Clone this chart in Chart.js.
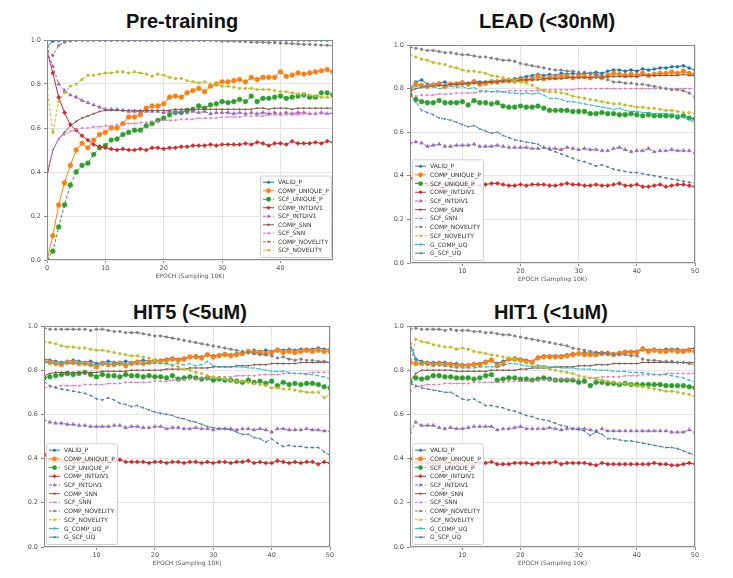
<!DOCTYPE html>
<html>
<head>
<meta charset="utf-8">
<script src="https://cdn.jsdelivr.net/npm/chart.js@4.4.0/dist/chart.umd.min.js"></script>
<style>
  body { margin:0; background:#fff; width:733px; height:578px; position:relative; overflow:hidden; }
  .ttl { position:absolute; width:240px; text-align:center; font-family:"Liberation Sans", Arial, sans-serif;
         font-weight:bold; font-size:20px; line-height:24px; color:#111; }
  canvas { position:absolute; }
</style>
</head>
<body>
<div class="ttl" style="left:62px;top:9px">Pre-training</div>
<div class="ttl" style="left:427px;top:9px">LEAD (&lt;30nM)</div>
<div class="ttl" style="left:70px;top:300px">HIT5 (&lt;5uM)</div>
<div class="ttl" style="left:431px;top:300px">HIT1 (&lt;1uM)</div>

<script>
// ---- data ----
const seriesNames = ['VALID_P','COMP_UNIQUE_P','SCF_UNIQUE_P','COMP_INTDIV1','SCF_INTDIV1',
  'COMP_SNN','SCF_SNN','COMP_NOVELITY','SCF_NOVELITY','G_COMP_UQ','G_SCF_UQ'];

const epochsPre = [0,1,2,3,4,5,6,7,8,9,10,11,12,13,14,15,16,17,18,19,20,21,22,23,24,
  25,26,27,28,29,30,31,32,33,34,35,36,37,38,39,40,41,42,43,44,45,46,47,48,49];
const epochsFT = [1,2,3,4,5,6,7,8,9,10,11,12,13,14,15,16,17,18,19,20,21,22,23,24,25,
  26,27,28,29,30,31,32,33,34,35,36,37,38,39,40,41,42,43,44,45,46,47,48,49,50];
const yTicks = [0.0, 0.2, 0.4, 0.6, 0.8, 1.0];
const xTicks = [0, 10, 20, 30, 40, 50];

// Pre-training
const preValid = [0.97,0.995,0.998,1,1,1,1,1,1,1, 1,1,1,1,1,1,1,1,1,1, 1,1,1,1,1,1,1,1,1,1, 1,1,1,1,1,1,1,1,1,1, 1,1,1,1,1,1,1,1,1,1];
const preCompUniq = [0.00,0.11,0.25,0.35,0.43,0.50,0.53,0.51,0.545,0.57, 0.58,0.60,0.60,0.62,0.65,0.65,0.66,0.69,0.70,0.70,
  0.71,0.74,0.745,0.74,0.76,0.77,0.78,0.765,0.79,0.80, 0.81,0.81,0.815,0.82,0.81,0.83,0.82,0.83,0.83,0.83,
  0.855,0.835,0.84,0.85,0.845,0.85,0.855,0.86,0.865,0.855];
const preScfUniq = [0.00,0.04,0.15,0.25,0.34,0.40,0.43,0.44,0.48,0.51, 0.52,0.545,0.55,0.57,0.58,0.59,0.59,0.61,0.62,0.635,
  0.645,0.66,0.67,0.67,0.68,0.685,0.70,0.69,0.705,0.71, 0.72,0.715,0.72,0.73,0.72,0.745,0.72,0.735,0.735,0.74,
  0.745,0.735,0.74,0.745,0.75,0.74,0.74,0.76,0.76,0.75];
const preCompDiv = [0.95,0.85,0.74,0.67,0.615,0.59,0.565,0.545,0.525,0.515, 0.51,0.505,0.50,0.505,0.50,0.50,0.505,0.50,0.51,0.51,
  0.505,0.51,0.51,0.515,0.515,0.52,0.52,0.52,0.525,0.52, 0.525,0.525,0.525,0.525,0.53,0.525,0.535,0.53,0.52,0.53,
  0.53,0.525,0.54,0.53,0.53,0.53,0.535,0.53,0.54,0.535];
const preScfDiv = [0.95,0.88,0.80,0.77,0.75,0.74,0.725,0.715,0.705,0.695, 0.685,0.685,0.685,0.68,0.675,0.675,0.675,0.675,0.675,0.675,
  0.67,0.675,0.67,0.675,0.67,0.675,0.67,0.675,0.665,0.67, 0.67,0.67,0.665,0.67,0.665,0.67,0.665,0.67,0.665,0.67,
  0.665,0.67,0.665,0.67,0.67,0.665,0.665,0.67,0.665,0.67];
const preCompSnn = [0.38,0.50,0.55,0.58,0.61,0.63,0.645,0.655,0.665,0.675, 0.68,0.68,0.68,0.68,0.68,0.68,0.68,0.68,0.68,0.68,
  0.68,0.68,0.685,0.685,0.685,0.685,0.685,0.685,0.685,0.685, 0.685,0.685,0.685,0.685,0.685,0.685,0.69,0.69,0.685,0.69,
  0.69,0.69,0.685,0.69,0.69,0.69,0.69,0.69,0.69,0.69];
const preScfSnn = [0.40,0.50,0.55,0.57,0.585,0.595,0.60,0.60,0.605,0.605, 0.61,0.61,0.615,0.62,0.62,0.62,0.625,0.625,0.63,0.63,
  0.635,0.635,0.635,0.64,0.64,0.64,0.645,0.645,0.645,0.645, 0.65,0.65,0.65,0.65,0.655,0.655,0.655,0.655,0.66,0.66,
  0.66,0.66,0.66,0.66,0.665,0.665,0.665,0.665,0.665,0.665];
const preCompNov = [0.95,0.93,0.975,0.99,0.995,1,1,1,1,1, 1,1,1,1,1,1,1,1,1,1, 1,1,1,1,1,1,1,1,1,0.998,
  0.995,0.995,0.995,0.993,0.993,0.99,0.99,0.99,0.988,0.988, 0.985,0.985,0.983,0.982,0.98,0.98,0.978,0.977,0.976,0.975];
const preScfNov = [0.78,0.58,0.72,0.76,0.79,0.80,0.82,0.84,0.84,0.845, 0.85,0.85,0.855,0.855,0.85,0.855,0.85,0.845,0.835,0.845,
  0.84,0.83,0.825,0.825,0.815,0.81,0.805,0.81,0.80,0.80, 0.79,0.79,0.785,0.78,0.78,0.78,0.775,0.775,0.775,0.77,
  0.765,0.765,0.76,0.755,0.755,0.75,0.745,0.74,0.74,0.735];

// LEAD (<30nM)
const leadValid = [0.80,0.83,0.84,0.82,0.82,0.825,0.83,0.82,0.825,0.83, 0.825,0.835,0.83,0.83,0.835,0.835,0.84,0.84,0.845,0.85,
  0.855,0.86,0.865,0.86,0.865,0.86,0.87,0.865,0.87,0.865, 0.87,0.87,0.875,0.87,0.88,0.885,0.885,0.88,0.885,0.88,
  0.89,0.885,0.89,0.895,0.895,0.90,0.90,0.905,0.895,0.885];
const leadCompUniq = [0.79,0.82,0.815,0.81,0.815,0.82,0.81,0.82,0.82,0.825, 0.82,0.83,0.82,0.825,0.83,0.83,0.835,0.835,0.835,0.84,
  0.84,0.845,0.855,0.845,0.85,0.85,0.855,0.855,0.85,0.855, 0.855,0.85,0.86,0.85,0.86,0.87,0.865,0.86,0.865,0.86,
  0.87,0.86,0.865,0.87,0.87,0.875,0.87,0.88,0.87,0.865];
const leadScfUniq = [0.77,0.75,0.74,0.735,0.735,0.745,0.735,0.735,0.735,0.74, 0.725,0.745,0.735,0.735,0.73,0.735,0.72,0.715,0.715,0.72,
  0.715,0.715,0.72,0.71,0.70,0.70,0.70,0.70,0.695,0.695, 0.695,0.685,0.685,0.69,0.685,0.685,0.68,0.68,0.685,0.68,
  0.675,0.68,0.675,0.675,0.675,0.675,0.67,0.675,0.665,0.66];
const leadCompDiv = [0.39,0.375,0.36,0.36,0.355,0.36,0.36,0.355,0.36,0.36, 0.355,0.36,0.355,0.36,0.365,0.365,0.36,0.355,0.355,0.36,
  0.355,0.36,0.36,0.36,0.355,0.355,0.36,0.365,0.36,0.36, 0.355,0.355,0.36,0.355,0.355,0.36,0.365,0.355,0.355,0.36,
  0.35,0.35,0.355,0.36,0.35,0.355,0.36,0.36,0.355,0.35];
const leadScfDiv = [0.55,0.555,0.55,0.535,0.54,0.545,0.535,0.535,0.54,0.54, 0.54,0.545,0.535,0.535,0.535,0.54,0.535,0.53,0.53,0.53,
  0.53,0.525,0.525,0.53,0.525,0.525,0.52,0.53,0.525,0.52, 0.525,0.52,0.52,0.515,0.515,0.525,0.53,0.52,0.51,0.515,
  0.515,0.525,0.51,0.515,0.515,0.52,0.515,0.515,0.515,0.505];
const leadCompSnn = [0.79,0.80,0.805,0.81,0.81,0.815,0.815,0.82,0.82,0.82, 0.825,0.825,0.825,0.83,0.83,0.83,0.835,0.835,0.835,0.84,
  0.84,0.84,0.84,0.845,0.845,0.845,0.845,0.85,0.85,0.85, 0.85,0.85,0.85,0.85,0.855,0.855,0.855,0.855,0.855,0.855,
  0.86,0.86,0.86,0.86,0.86,0.86,0.86,0.865,0.86,0.86];
const leadScfSnn = [0.76,0.765,0.77,0.77,0.77,0.775,0.775,0.775,0.78,0.78, 0.78,0.78,0.785,0.785,0.785,0.785,0.785,0.79,0.79,0.79,
  0.79,0.79,0.79,0.795,0.795,0.795,0.795,0.795,0.795,0.80, 0.80,0.80,0.80,0.80,0.80,0.80,0.80,0.80,0.80,0.80,
  0.80,0.80,0.80,0.80,0.80,0.80,0.80,0.80,0.80,0.80];
const leadCompNov = [0.99,0.985,0.98,0.975,0.975,0.97,0.965,0.965,0.96,0.955, 0.955,0.95,0.945,0.945,0.94,0.935,0.93,0.93,0.925,0.915,
  0.91,0.905,0.90,0.895,0.89,0.885,0.885,0.88,0.88,0.875, 0.875,0.87,0.865,0.86,0.84,0.83,0.83,0.825,0.825,0.82,
  0.82,0.815,0.81,0.805,0.80,0.795,0.795,0.79,0.78,0.76];
const leadScfNov = [0.955,0.945,0.935,0.93,0.92,0.915,0.91,0.90,0.895,0.885, 0.88,0.88,0.875,0.87,0.86,0.855,0.85,0.845,0.835,0.83,
  0.825,0.815,0.80,0.79,0.785,0.785,0.78,0.775,0.765,0.76, 0.755,0.75,0.745,0.74,0.735,0.73,0.73,0.725,0.72,0.715,
  0.715,0.71,0.71,0.705,0.70,0.70,0.695,0.69,0.69,0.685];
const leadGComp = [0.80,0.81,0.805,0.81,0.81,0.80,0.805,0.81,0.805,0.81, 0.80,0.805,0.79,0.79,0.785,0.79,0.785,0.78,0.78,0.775,
  0.78,0.775,0.78,0.77,0.755,0.755,0.75,0.74,0.74,0.735, 0.73,0.725,0.72,0.715,0.71,0.705,0.71,0.70,0.695,0.695,
  0.69,0.69,0.685,0.685,0.685,0.68,0.675,0.67,0.66,0.64];
const leadGScf = [0.78,0.74,0.70,0.69,0.68,0.665,0.66,0.655,0.645,0.635, 0.625,0.63,0.615,0.605,0.595,0.60,0.585,0.575,0.565,0.56,
  0.555,0.55,0.545,0.53,0.52,0.51,0.50,0.49,0.48,0.47, 0.465,0.455,0.445,0.45,0.44,0.43,0.425,0.42,0.415,0.415,
  0.41,0.405,0.40,0.395,0.39,0.385,0.38,0.375,0.37,0.365];

// HIT5 (<5uM)
const hit5Valid = [0.85,0.845,0.84,0.835,0.84,0.845,0.84,0.835,0.84,0.83, 0.835,0.84,0.835,0.835,0.84,0.835,0.84,0.845,0.84,0.845,
  0.845,0.85,0.855,0.85,0.855,0.86,0.865,0.86,0.87,0.865, 0.87,0.875,0.87,0.875,0.88,0.88,0.89,0.885,0.89,0.885,
  0.895,0.89,0.895,0.89,0.895,0.895,0.895,0.90,0.895,0.895];
const hit5CompUniq = [0.84,0.835,0.83,0.825,0.835,0.835,0.83,0.83,0.825,0.815, 0.83,0.825,0.825,0.83,0.82,0.83,0.835,0.83,0.835,0.84,
  0.84,0.845,0.85,0.845,0.85,0.86,0.86,0.855,0.87,0.86, 0.865,0.87,0.865,0.87,0.875,0.885,0.88,0.88,0.875,0.88,
  0.89,0.88,0.885,0.88,0.885,0.89,0.885,0.89,0.885,0.885];
const hit5ScfUniq = [0.765,0.77,0.775,0.78,0.785,0.78,0.785,0.79,0.78,0.77, 0.78,0.775,0.775,0.77,0.78,0.775,0.775,0.77,0.775,0.77,
  0.77,0.765,0.775,0.76,0.765,0.77,0.765,0.76,0.765,0.755, 0.76,0.755,0.755,0.75,0.745,0.755,0.745,0.75,0.74,0.75,
  0.73,0.745,0.735,0.74,0.735,0.74,0.74,0.735,0.725,0.72];
const hit5CompDiv = [0.42,0.39,0.385,0.39,0.385,0.385,0.385,0.39,0.385,0.385, 0.385,0.385,0.39,0.395,0.385,0.385,0.385,0.385,0.38,0.385,
  0.385,0.38,0.385,0.385,0.38,0.385,0.385,0.38,0.385,0.38, 0.385,0.385,0.38,0.385,0.385,0.39,0.38,0.385,0.38,0.38,
  0.39,0.385,0.38,0.385,0.38,0.385,0.385,0.375,0.385,0.38];
const hit5ScfDiv = [0.575,0.565,0.56,0.56,0.555,0.555,0.55,0.55,0.545,0.545, 0.545,0.545,0.55,0.55,0.54,0.545,0.545,0.54,0.54,0.545,
  0.545,0.535,0.54,0.54,0.535,0.535,0.54,0.535,0.535,0.53, 0.535,0.535,0.535,0.53,0.535,0.535,0.53,0.535,0.53,0.52,
  0.535,0.535,0.53,0.53,0.53,0.535,0.53,0.53,0.525,0.525];
const hit5CompSnn = [0.775,0.785,0.79,0.79,0.79,0.79,0.79,0.79,0.79,0.79, 0.795,0.795,0.795,0.795,0.795,0.80,0.80,0.80,0.80,0.80,
  0.80,0.805,0.805,0.805,0.805,0.81,0.81,0.81,0.81,0.815, 0.815,0.815,0.815,0.82,0.82,0.82,0.825,0.825,0.825,0.83,
  0.83,0.83,0.83,0.83,0.835,0.835,0.835,0.835,0.835,0.835];
const hit5ScfSnn = [0.72,0.725,0.725,0.73,0.73,0.73,0.73,0.735,0.735,0.735, 0.735,0.74,0.74,0.74,0.745,0.745,0.745,0.745,0.745,0.75,
  0.75,0.75,0.755,0.755,0.755,0.76,0.76,0.765,0.765,0.765, 0.77,0.77,0.77,0.775,0.775,0.775,0.775,0.78,0.78,0.78,
  0.78,0.785,0.785,0.785,0.785,0.785,0.79,0.79,0.79,0.79];
const hit5CompNov = [0.99,0.985,0.985,0.985,0.985,0.985,0.985,0.985,0.98,0.985, 0.985,0.98,0.975,0.975,0.97,0.97,0.97,0.965,0.96,0.955,
  0.955,0.95,0.945,0.94,0.935,0.93,0.925,0.92,0.915,0.91, 0.905,0.90,0.895,0.89,0.885,0.88,0.875,0.87,0.87,0.865,
  0.855,0.86,0.85,0.845,0.85,0.845,0.845,0.84,0.84,0.835];
const hit5ScfNov = [0.93,0.925,0.92,0.91,0.905,0.905,0.90,0.90,0.895,0.89, 0.89,0.885,0.88,0.875,0.87,0.865,0.865,0.86,0.855,0.845,
  0.835,0.83,0.82,0.815,0.805,0.80,0.79,0.785,0.775,0.77, 0.765,0.76,0.755,0.75,0.75,0.745,0.74,0.735,0.73,0.72,
  0.72,0.715,0.715,0.71,0.705,0.70,0.70,0.70,0.675,0.69];
const hit5GComp = [0.835,0.835,0.83,0.83,0.83,0.83,0.83,0.83,0.825,0.825, 0.83,0.83,0.825,0.83,0.83,0.83,0.825,0.83,0.83,0.83,
  0.83,0.83,0.825,0.83,0.825,0.83,0.82,0.825,0.84,0.82, 0.815,0.815,0.815,0.815,0.815,0.81,0.81,0.805,0.80,0.795,
  0.795,0.795,0.79,0.785,0.785,0.78,0.78,0.775,0.77,0.76];
const hit5GScf = [0.75,0.73,0.72,0.715,0.71,0.705,0.70,0.695,0.685,0.67, 0.665,0.675,0.665,0.65,0.645,0.635,0.64,0.63,0.62,0.61,
  0.605,0.60,0.595,0.585,0.58,0.57,0.565,0.555,0.545,0.54, 0.535,0.535,0.53,0.52,0.51,0.51,0.495,0.49,0.475,0.49,
  0.47,0.455,0.46,0.455,0.455,0.45,0.45,0.45,0.43,0.415];

// HIT1 (<1uM)
const hit1Valid = [0.92,0.85,0.84,0.835,0.835,0.835,0.835,0.83,0.83,0.825, 0.825,0.83,0.83,0.84,0.845,0.83,0.84,0.85,0.855,0.85,
  0.845,0.84,0.86,0.865,0.865,0.865,0.865,0.87,0.875,0.875, 0.88,0.875,0.88,0.88,0.88,0.875,0.88,0.885,0.885,0.885,
  0.90,0.89,0.895,0.89,0.895,0.895,0.895,0.89,0.895,0.90];
const hit1CompUniq = [0.835,0.83,0.83,0.83,0.825,0.83,0.825,0.825,0.82,0.82, 0.82,0.825,0.825,0.835,0.845,0.82,0.83,0.85,0.85,0.845,
  0.84,0.835,0.855,0.86,0.86,0.86,0.86,0.865,0.87,0.875, 0.87,0.87,0.87,0.875,0.875,0.87,0.875,0.88,0.88,0.88,
  0.895,0.885,0.89,0.885,0.885,0.89,0.885,0.885,0.89,0.885];
const hit1ScfUniq = [0.745,0.765,0.76,0.765,0.775,0.775,0.77,0.77,0.765,0.765, 0.765,0.76,0.765,0.775,0.78,0.755,0.76,0.765,0.765,0.76,
  0.76,0.755,0.76,0.765,0.76,0.755,0.755,0.755,0.755,0.745, 0.75,0.73,0.745,0.745,0.74,0.74,0.735,0.74,0.735,0.735,
  0.735,0.735,0.735,0.735,0.73,0.73,0.73,0.73,0.725,0.72];
const hit1CompDiv = [0.40,0.385,0.38,0.38,0.38,0.375,0.38,0.38,0.38,0.375, 0.38,0.375,0.38,0.38,0.385,0.375,0.375,0.375,0.38,0.38,
  0.38,0.375,0.38,0.38,0.38,0.385,0.375,0.38,0.38,0.38, 0.38,0.375,0.37,0.38,0.375,0.375,0.375,0.375,0.375,0.375,
  0.375,0.375,0.38,0.375,0.375,0.37,0.37,0.375,0.38,0.375];
const hit1ScfDiv = [0.52,0.565,0.55,0.55,0.55,0.54,0.535,0.54,0.535,0.535, 0.54,0.545,0.545,0.545,0.545,0.53,0.535,0.535,0.54,0.545,
  0.535,0.535,0.535,0.535,0.54,0.535,0.53,0.535,0.535,0.535, 0.535,0.53,0.525,0.535,0.525,0.525,0.525,0.525,0.525,0.525,
  0.525,0.525,0.525,0.525,0.525,0.52,0.52,0.52,0.53,0.52];
const hit1CompSnn = [0.75,0.785,0.80,0.80,0.80,0.80,0.80,0.80,0.795,0.795, 0.795,0.795,0.795,0.795,0.80,0.80,0.80,0.80,0.80,0.805,
  0.805,0.81,0.81,0.81,0.81,0.815,0.815,0.815,0.815,0.82, 0.82,0.82,0.825,0.825,0.825,0.83,0.83,0.83,0.83,0.83,
  0.835,0.835,0.835,0.835,0.835,0.835,0.835,0.835,0.835,0.835];
const hit1ScfSnn = [0.70,0.725,0.73,0.735,0.735,0.735,0.74,0.74,0.74,0.74, 0.74,0.745,0.745,0.745,0.745,0.745,0.745,0.75,0.75,0.75,
  0.75,0.75,0.755,0.755,0.755,0.755,0.76,0.76,0.76,0.76, 0.765,0.765,0.765,0.77,0.77,0.77,0.77,0.775,0.775,0.775,
  0.78,0.78,0.78,0.78,0.785,0.785,0.785,0.785,0.785,0.785];
const hit1CompNov = [0.985,0.99,0.985,0.985,0.985,0.985,0.98,0.985,0.98,0.98, 0.98,0.975,0.975,0.97,0.97,0.965,0.96,0.96,0.955,0.95,
  0.945,0.94,0.935,0.93,0.925,0.92,0.915,0.91,0.90,0.895, 0.89,0.885,0.88,0.875,0.875,0.87,0.87,0.87,0.865,0.865,
  0.85,0.845,0.845,0.84,0.84,0.84,0.835,0.835,0.83,0.825];
const hit1ScfNov = [0.82,0.94,0.93,0.925,0.915,0.91,0.905,0.905,0.895,0.90, 0.895,0.885,0.88,0.875,0.87,0.865,0.86,0.855,0.85,0.84,
  0.835,0.825,0.82,0.815,0.805,0.80,0.795,0.79,0.785,0.775, 0.77,0.765,0.76,0.755,0.75,0.745,0.74,0.74,0.735,0.73,
  0.725,0.72,0.715,0.71,0.705,0.705,0.70,0.695,0.69,0.68];
const hit1GComp = [0.90,0.85,0.83,0.825,0.825,0.82,0.82,0.815,0.81,0.81, 0.81,0.81,0.815,0.815,0.815,0.815,0.82,0.83,0.83,0.825,
  0.82,0.815,0.82,0.82,0.815,0.815,0.81,0.81,0.81,0.805, 0.805,0.805,0.80,0.80,0.80,0.795,0.795,0.795,0.79,0.79,
  0.79,0.785,0.78,0.78,0.78,0.775,0.77,0.765,0.755,0.745];
const hit1GScf = [0.74,0.73,0.72,0.715,0.71,0.705,0.70,0.70,0.685,0.67, 0.665,0.67,0.655,0.64,0.64,0.635,0.63,0.62,0.615,0.605,
  0.595,0.59,0.58,0.575,0.57,0.56,0.55,0.545,0.535,0.53, 0.525,0.505,0.52,0.51,0.49,0.49,0.485,0.48,0.48,0.475,
  0.47,0.465,0.46,0.455,0.45,0.45,0.445,0.435,0.425,0.415];

// ---- look of each series (matplotlib tab10 cycle) ----
const looks = {
  VALID_P:       { color:'#1f77b4', dash:[],    point:'circle',   r:1.5 },
  COMP_UNIQUE_P: { color:'#ff7f0e', dash:[],    point:'circle',   r:2.4 },
  SCF_UNIQUE_P:  { color:'#2ca02c', dash:[3,2], point:'circle',   r:2.4 },
  COMP_INTDIV1:  { color:'#d62728', dash:[],    point:'rectRot',  r:2.1 },
  SCF_INTDIV1:   { color:'#9467bd', dash:[3,2], point:'triangle', r:2.1 },
  COMP_SNN:      { color:'#8c564b', dash:[],    point:'circle',   r:0.8 },
  SCF_SNN:       { color:'#e377c2', dash:[3,2], point:'circle',   r:0.8 },
  COMP_NOVELITY: { color:'#7f7f7f', dash:[3,2], point:'circle',   r:1.3 },
  SCF_NOVELITY:  { color:'#bcbd22', dash:[3,2], point:'circle',   r:1.3 },
  G_COMP_UQ:     { color:'#17becf', dash:[4,2], point:'circle',   r:0.6 },
  G_SCF_UQ:      { color:'#4c7fa6', dash:[4,2], point:'circle',   r:0.8 },
};

function legendMarker(ctx, style, r, x, y) {
  ctx.beginPath();
  if (style === 'triangle') {
    ctx.moveTo(x, y - r); ctx.lineTo(x + r * 0.9, y + r * 0.6); ctx.lineTo(x - r * 0.9, y + r * 0.6); ctx.closePath();
  } else if (style === 'rectRot') {
    ctx.moveTo(x, y - r); ctx.lineTo(x + r, y); ctx.lineTo(x, y + r); ctx.lineTo(x - r, y); ctx.closePath();
  } else {
    ctx.arc(x, y, r, 0, Math.PI * 2);
  }
  ctx.fill();
}

// frame round the plot + matplotlib style legend inside it
const frameLegend = {
  id: 'frameLegend',
  afterDatasetsDraw(chart, args, opts) {
    const a = chart.chartArea, ctx = chart.ctx;
    ctx.save();
    ctx.strokeStyle = '#8a8a8a';
    ctx.lineWidth = 1;
    ctx.setLineDash([]);
    ctx.strokeRect(Math.round(a.left) + 0.5, Math.round(a.top) + 0.5,
      Math.round(a.right - a.left) - 1, Math.round(a.bottom - a.top) - 1);

    const sets = chart.data.datasets;
    const rowH = opts.rowH, w = 71;
    const h = sets.length * rowH + 5;
    const x0 = opts.side === 'right' ? a.right - 2 - w : a.left + 2;
    const y0 = a.bottom - 3 - h;
    ctx.fillStyle = 'rgba(255,255,255,0.85)';
    ctx.strokeStyle = '#d0d0d0';
    ctx.beginPath();
    ctx.roundRect(x0 + 0.5, y0 + 0.5, w, h, 2);
    ctx.fill();
    ctx.stroke();

    ctx.font = '6px "DejaVu Sans"';
    ctx.textBaseline = 'middle';
    sets.forEach((ds, i) => {
      const lk = looks[ds.label];
      const y = y0 + 2.5 + rowH * (i + 0.5);
      ctx.strokeStyle = lk.color;
      ctx.fillStyle = lk.color;
      ctx.lineWidth = 1;
      ctx.setLineDash(lk.dash);
      ctx.beginPath();
      ctx.moveTo(x0 + 3, y);
      ctx.lineTo(x0 + 14, y);
      ctx.stroke();
      ctx.setLineDash([]);
      legendMarker(ctx, lk.point, Math.max(lk.r, 1.2), x0 + 8.5, y);
      ctx.fillStyle = '#333';
      ctx.fillText(ds.label, x0 + 18, y + 0.5);
    });
    ctx.restore();
  }
};

// area = [left, top, right, bottom] of the plot box on the page
function panel(labels, values, xMin, xMax, area, side) {
  const [L, T, R, B] = area;
  const yAxisW = 32, padTop = 8, padRight = 10, xAxisH = 22;
  const cv = document.createElement('canvas');
  cv.width = R - L + yAxisW + padRight;
  cv.height = B - T + padTop + xAxisH;
  cv.style.left = (L - yAxisW) + 'px';
  cv.style.top = (T - padTop) + 'px';
  document.body.appendChild(cv);

  const n = values.length;
  const datasets = values.map((vals, i) => {
    const lk = looks[seriesNames[i]];
    return {
      label: seriesNames[i],
      data: vals,
      borderColor: lk.color,
      backgroundColor: lk.color,
      borderWidth: 1,
      borderDash: lk.dash,
      pointStyle: lk.point,
      pointRadius: lk.r,
      pointBorderWidth: 0.5,
      pointBackgroundColor: lk.color,
      pointBorderColor: lk.color,
      tension: 0,
      order: n - i,
    };
  });

  const tickFont = { family: 'DejaVu Sans', size: 6.5 };
  return new Chart(cv, {
    type: 'line',
    data: { labels: labels, datasets: datasets },
    plugins: [frameLegend],
    options: {
      responsive: false,
      animation: false,
      layout: { padding: { left: 0, top: padTop, right: padRight, bottom: 0 } },
      plugins: {
        legend: { display: false },
        tooltip: { enabled: false },
        frameLegend: { side: side, rowH: n > 9 ? 8.7 : 8.5 },
      },
      scales: {
        x: {
          type: 'linear',
          min: xMin, max: xMax,
          afterBuildTicks: s => { s.ticks = xTicks.filter(v => v >= xMin && v <= xMax).map(v => ({ value: v })); },
          afterFit: s => { s.height = xAxisH; },
          ticks: { font: tickFont, color: '#555', padding: 1, maxRotation: 0, callback: v => String(v) },
          grid: { color: '#e4e4e4', tickLength: 3, tickColor: '#888' },
          border: { display: false },
          title: { display: true, text: 'EPOCH (Sampling 10K)', font: { family: 'DejaVu Sans', size: 6 }, color: '#555',
                   padding: { top: 0, bottom: 2 } },
        },
        y: {
          min: 0, max: 1,
          afterBuildTicks: s => { s.ticks = yTicks.map(v => ({ value: v })); },
          afterFit: s => { s.width = yAxisW; },
          ticks: { font: tickFont, color: '#555', padding: 3, callback: v => v.toFixed(1) },
          grid: { color: '#e4e4e4', tickLength: 3, tickColor: '#888' },
          border: { display: false },
        }
      }
    }
  });
}

panel(epochsPre,
  [preValid, preCompUniq, preScfUniq, preCompDiv, preScfDiv, preCompSnn, preScfSnn, preCompNov, preScfNov],
  0, 49, [47, 40, 333, 260], 'right');
panel(epochsFT,
  [leadValid, leadCompUniq, leadScfUniq, leadCompDiv, leadScfDiv, leadCompSnn, leadScfSnn, leadCompNov, leadScfNov, leadGComp, leadGScf],
  1, 50, [410, 45, 695, 263], 'left');
panel(epochsFT,
  [hit5Valid, hit5CompUniq, hit5ScfUniq, hit5CompDiv, hit5ScfDiv, hit5CompSnn, hit5ScfSnn, hit5CompNov, hit5ScfNov, hit5GComp, hit5GScf],
  1, 50, [44, 326, 330, 547], 'left');
panel(epochsFT,
  [hit1Valid, hit1CompUniq, hit1ScfUniq, hit1CompDiv, hit1ScfDiv, hit1CompSnn, hit1ScfSnn, hit1CompNov, hit1ScfNov, hit1GComp, hit1GScf],
  1, 50, [410, 326, 695, 547], 'left');
</script>
</body>
</html>
